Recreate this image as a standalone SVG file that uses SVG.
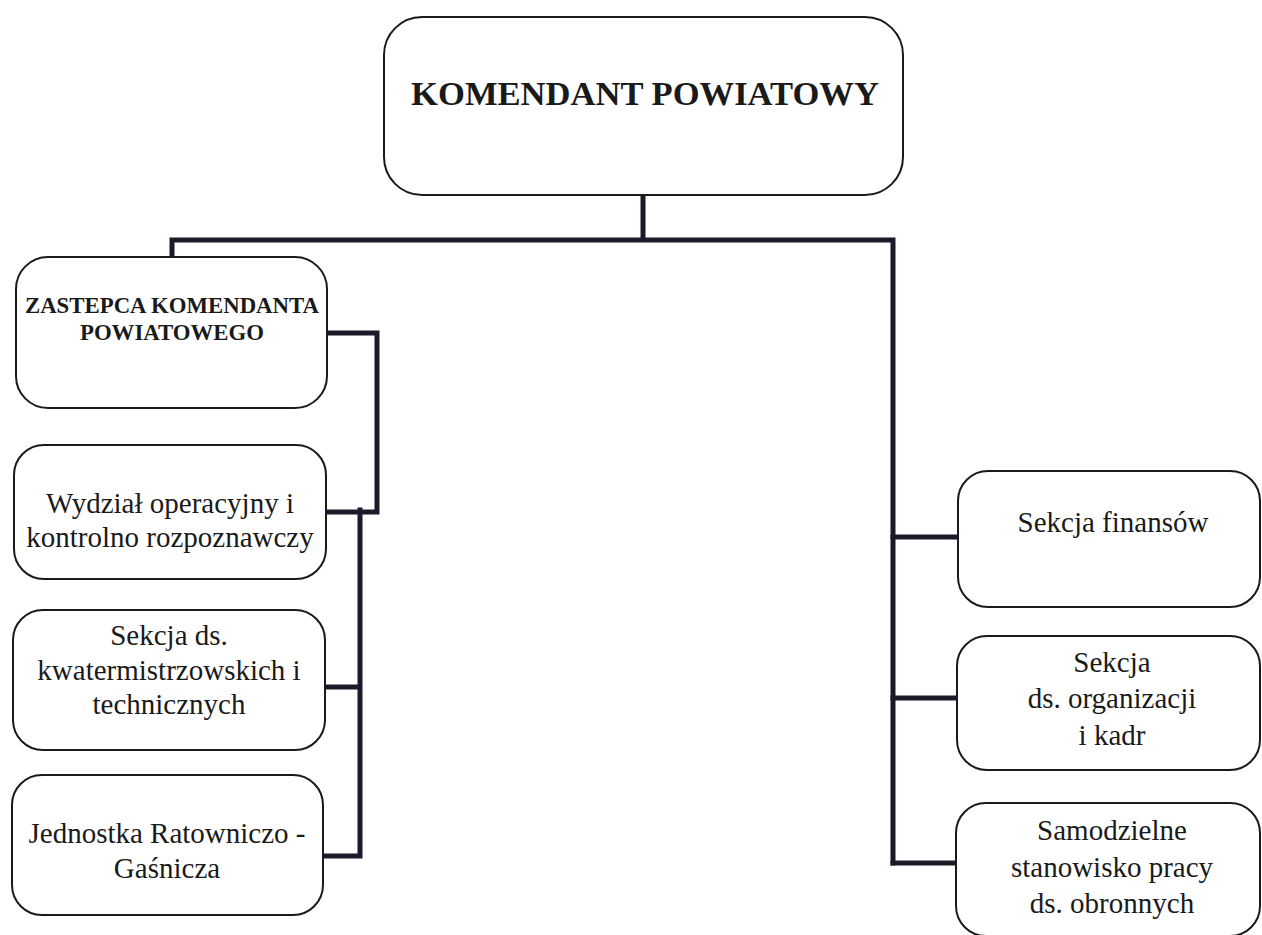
<svg xmlns="http://www.w3.org/2000/svg" width="1262" height="935" viewBox="0 0 1262 935">
<style>
.box{fill:#fff;stroke:#1a1a1a;stroke-width:2}
.t{font-family:"Liberation Serif","Times New Roman",serif;fill:#1a1a1a;text-anchor:middle}
.n{font-size:29px}
.b{font-weight:bold}
.con{fill:none;stroke:#1a1a2a;stroke-width:5;stroke-linejoin:miter;stroke-linecap:square}
</style>
<rect width="1262" height="935" fill="#fff"/>
<g id="connectors">
<path class="con" d="M643 195 V240 M172 257 V240 H893 V863"/>
<path class="con" d="M327 333 H377 V512 H327"/>
<path class="con" d="M360 510 V856 M325 687 H360 M323 856 H360"/>
<path class="con" d="M893 537 H957 M893 698 H957 M893 863 H956"/>
</g>
<g id="komendant">
<rect class="box" x="384" y="17" width="519" height="178" rx="38"/>
<text class="t b" x="645" y="105" font-size="34.6">KOMENDANT POWIATOWY</text>
</g>
<g id="zastepca">
<rect class="box" x="16" y="257" width="311" height="151" rx="32"/>
<text class="t b" x="172" y="313" font-size="22.8">ZASTEPCA KOMENDANTA</text>
<text class="t b" x="172" y="340" font-size="22.8">POWIATOWEGO</text>
</g>
<g id="wydzial">
<rect class="box" x="14" y="445" width="312" height="134" rx="30"/>
<text class="t n" x="170" y="513">Wydział operacyjny i</text>
<text class="t n" x="170" y="547">kontrolno rozpoznawczy</text>
</g>
<g id="sekcja-kwater">
<rect class="box" x="13" y="610" width="312" height="140" rx="30"/>
<text class="t n" x="169" y="645">Sekcja ds.</text>
<text class="t n" x="169" y="680">kwatermistrzowskich i</text>
<text class="t n" x="169" y="714">technicznych</text>
</g>
<g id="jednostka">
<rect class="box" x="12" y="775" width="311" height="140" rx="30"/>
<text class="t n" x="167" y="843">Jednostka Ratowniczo -</text>
<text class="t n" x="167" y="878">Gaśnicza</text>
</g>
<g id="sekcja-finansow">
<rect class="box" x="958" y="471" width="302" height="136" rx="30"/>
<text class="t n" x="1113" y="532">Sekcja finansów</text>
</g>
<g id="sekcja-organizacji">
<rect class="box" x="957" y="636" width="303" height="134" rx="30"/>
<text class="t n" x="1112" y="672">Sekcja</text>
<text class="t n" x="1112" y="708">ds. organizacji</text>
<text class="t n" x="1112" y="745">i kadr</text>
</g>
<g id="samodzielne">
<rect class="box" x="956" y="803" width="304" height="133" rx="30"/>
<text class="t n" x="1112" y="840">Samodzielne</text>
<text class="t n" x="1112" y="877">stanowisko pracy</text>
<text class="t n" x="1112" y="913">ds. obronnych</text>
</g>
</svg>
